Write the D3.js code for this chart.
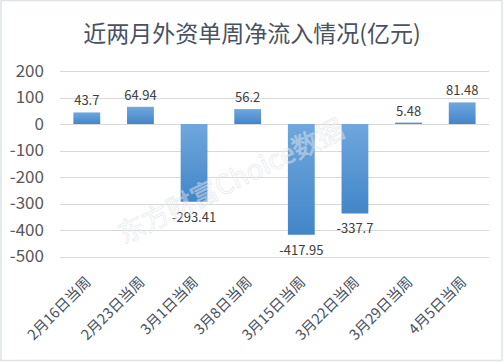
<!DOCTYPE html>
<html>
<head>
<meta charset="utf-8">
<script src="https://cdn.jsdelivr.net/npm/d3@7"></script>
<style>
  body { margin: 0; background: #fff; }
  svg { display: block; font-family: "Noto Sans CJK SC", "Microsoft YaHei", sans-serif; }
</style>
</head>
<body>
<svg id="chart" width="504" height="362"></svg>
<script>
// weekly net inflow, 亿元
var weeks = ['2月16日当周', '2月23日当周', '3月1日当周', '3月8日当周', '3月15日当周', '3月22日当周', '3月29日当周', '4月5日当周'];
var inflow = [43.7, 64.94, -293.41, 56.2, -417.95, -337.7, 5.48, 81.48];
var yTicks = [200, 100, 0, -100, -200, -300, -400, -500];

var svg = d3.select('#chart');
var width = 504, height = 362;

// frame
svg.append('rect')
  .attr('x', 1).attr('y', 0.5)
  .attr('width', width - 3).attr('height', height - 2)
  .attr('fill', '#fff')
  .attr('stroke', '#dde3e8')
  .attr('stroke-width', 1.5);

var defs = svg.append('defs');
var grad = defs.append('linearGradient')
  .attr('id', 'barGrad')
  .attr('x1', 0).attr('y1', 0).attr('x2', 0).attr('y2', 1);
grad.append('stop').attr('offset', '0%').attr('stop-color', '#70a7de');
grad.append('stop').attr('offset', '100%').attr('stop-color', '#4286c8');

var x = d3.scaleBand()
  .domain(weeks)
  .range([60, 489])
  .paddingInner(0.5)
  .paddingOuter(0.25);

var y = d3.scaleLinear()
  .domain([-500, 200])
  .range([256.5, 71]);

// title
svg.append('text')
  .attr('x', 252).attr('y', 42)
  .attr('text-anchor', 'middle')
  .attr('font-size', '23px')
  .attr('fill', '#4a5160')
  .text('近两月外资单周净流入情况(亿元)');

// gridlines
svg.selectAll('.grid')
  .data(yTicks)
  .enter()
  .append('line')
  .attr('class', 'grid')
  .attr('x1', 60).attr('x2', 489)
  .attr('y1', function (d) { return Math.round(y(d)) + 0.5; })
  .attr('y2', function (d) { return Math.round(y(d)) + 0.5; })
  .attr('stroke', '#d9d9d9')
  .attr('stroke-width', 1);

// y axis labels (plain hyphen minus like the original)
var yAxis = d3.axisLeft(y).tickValues(yTicks).tickFormat(function (d) { return String(d); })
  .tickSize(0).tickPadding(0);
var yg = svg.append('g')
  .attr('transform', 'translate(44,0)')
  .call(yAxis);
yg.select('.domain').remove();
yg.selectAll('text')
  .attr('font-size', '17px')
  .attr('font-family', '"Noto Sans CJK SC", sans-serif')
  .attr('fill', '#595959');

// bars
svg.selectAll('.bar')
  .data(inflow)
  .enter()
  .append('rect')
  .attr('class', 'bar')
  .attr('x', function (d, i) { return x(weeks[i]); })
  .attr('y', function (d) { return y(Math.max(0, d)); })
  .attr('width', x.bandwidth())
  .attr('height', function (d) { return Math.abs(y(d) - y(0)); })
  .attr('fill', 'url(#barGrad)');

// value labels
svg.selectAll('.val')
  .data(inflow)
  .enter()
  .append('text')
  .attr('class', 'val')
  .attr('x', function (d, i) { return x(weeks[i]) + x.bandwidth() / 2; })
  .attr('y', function (d) { return d >= 0 ? y(d) - 7 : y(d) + 20; })
  .attr('text-anchor', 'middle')
  .attr('font-size', '13px')
  .attr('fill', '#404040')
  .text(function (d) { return d; });

// x axis labels
var xAxis = d3.axisBottom(x).tickSize(0).tickPadding(0);
var xg = svg.append('g')
  .call(xAxis);
xg.select('.domain').remove();
xg.selectAll('.tick text')
  .attr('font-size', '14.5px')
  .attr('font-family', '"Noto Sans CJK SC", sans-serif')
  .attr('fill', '#4a5160')
  .attr('text-anchor', 'end')
  .attr('dy', 0)
  .attr('y', 0)
  .attr('transform', 'translate(5,283) rotate(-45)');

// watermark
svg.append('text')
  .attr('transform', 'translate(235,190) rotate(-26)')
  .attr('text-anchor', 'middle')
  .attr('font-size', '27px')
  .attr('fill', '#fff')
  .attr('fill-opacity', 0.35)
  .attr('stroke', '#d0d7de')
  .attr('stroke-opacity', 0.5)
  .attr('stroke-width', 0.8)
  .text('东方财富Choice数据');
</script>
</body>
</html>
